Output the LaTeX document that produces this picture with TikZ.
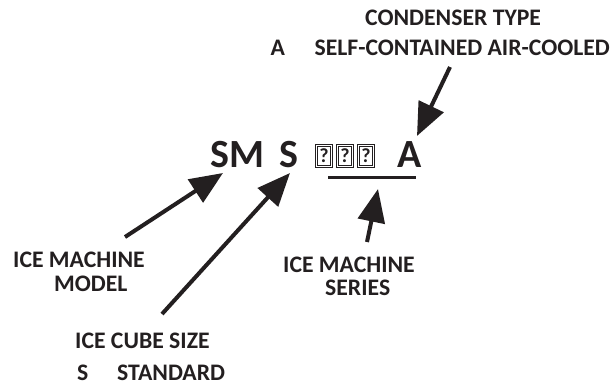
\documentclass[tikz,border=0pt]{standalone}
\usepackage{fontspec}
\setmainfont{Carlito}
\usetikzlibrary{arrows.meta}
\definecolor{ink}{HTML}{231F20}
\begin{document}
\begin{tikzpicture}[x=1pt,y=-1pt,
  lbl/.style={inner sep=0pt, anchor=base west, font=\fontsize{23.7}{28}\selectfont\bfseries, text=ink},
  big/.style={inner sep=0pt, anchor=base west, font=\fontsize{40}{48}\selectfont\bfseries, text=ink},
  qbox/.style={draw=ink, double=white, double distance=1.1pt, line width=1pt, minimum width=15.5pt, minimum height=21.5pt, inner sep=0pt, font=\fontsize{20}{22}\selectfont\bfseries, text=ink},
  pointer/.style={draw=ink, line width=4pt, -{Triangle[length=33pt,width=27pt]}},
  rule/.style={draw=ink, line width=3pt},
]
\useasboundingbox (0,0) rectangle (613,386);

% top labels
\node[lbl] (ctype) at (365,25) {CONDENSER TYPE};
\node[lbl, anchor=base east] (selfc) at (610,55) {SELF-CONTAINED AIR-COOLED};
\node[lbl] (ca) at ([xshift=-44pt]selfc.base west) {A};

% model number
\node[big] (sm) at (210,167) {SM};
\node[big] (s) at (279,167) {S};
\node[qbox] (q1) at (324,156) {?};
\node[qbox] (q2) at (345,156) {?};
\node[qbox] (q3) at (366,156) {?};
\node[big] (a) at (397,167) {A};
\coordinate (ul1) at (328,177);
\coordinate (ul2) at (416,177);
\draw[rule] (ul1) -- (ul2);

% bottom labels
\node[lbl] (mod1) at (13,267) {ICE MACHINE};
\node[lbl] (mod2) at (54,291) {MODEL};
\node[lbl] (ser1) at (283,272) {ICE MACHINE};
\node[lbl] (ser2) at (325,295) {SERIES};
\node[lbl] (cube) at (75,348) {ICE CUBE SIZE};
\node[lbl] (cs) at (77,380) {S};
\node[lbl] (std) at (117,380) {STANDARD};

% arrow end points
\coordinate (tA) at (450,67);
\coordinate (hA) at (417,136);
\coordinate (tM) at (125,237);
\coordinate (hM) at (223,173);
\coordinate (tC) at (162,314);
\coordinate (hC) at (290,173);
\coordinate (tS) at (367,242);
\coordinate (hS) at (378,189);

\draw[pointer] (tA) -- (hA);
\draw[pointer] (tM) -- (hM);
\draw[pointer] (tC) -- (hC);
\draw[pointer] (tS) -- (hS);
\end{tikzpicture}
\end{document}
